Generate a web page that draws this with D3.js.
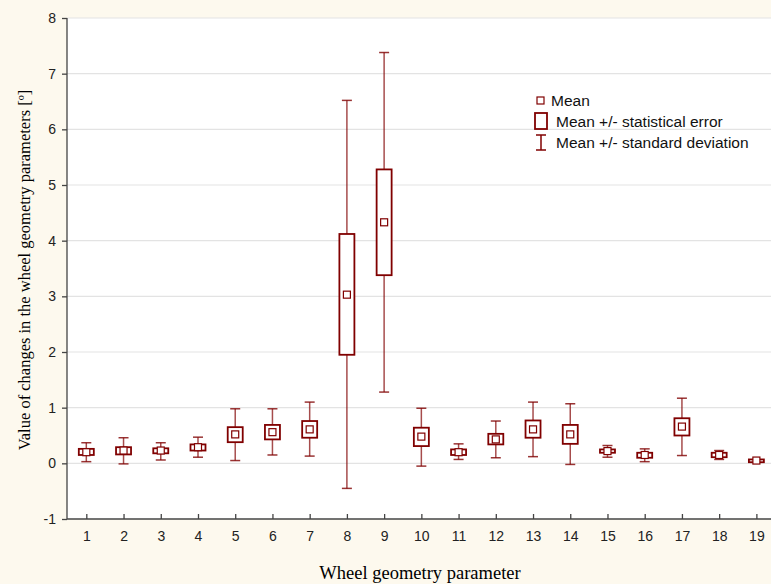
<!DOCTYPE html>
<meta charset="utf-8">
<style>body{margin:0;background:#fdf9ee}</style>
<body>
<script src="https://d3js.org/d3.v7.min.js"></script>
<script>
var params = d3.range(1, 20),
    means  = [0.20,0.23,0.23,0.29,0.52,0.56,0.61,3.03,4.33,0.48,0.20,0.43,0.61,0.52,0.22,0.15,0.66,0.15,0.05],
    seLo   = [0.15,0.16,0.18,0.23,0.38,0.43,0.46,1.95,3.38,0.31,0.15,0.34,0.46,0.35,0.19,0.10,0.50,0.11,0.02],
    seHi   = [0.26,0.29,0.27,0.34,0.65,0.69,0.76,4.12,5.28,0.64,0.25,0.53,0.77,0.69,0.25,0.19,0.81,0.19,0.07],
    sdLo   = [0.03,-0.01,0.06,0.11,0.05,0.15,0.13,-0.45,1.28,-0.05,0.07,0.10,0.12,-0.02,0.11,0.03,0.14,0.07,0.03],
    sdHi   = [0.37,0.46,0.37,0.47,0.98,0.98,1.10,6.52,7.38,0.99,0.35,0.76,1.10,1.07,0.32,0.26,1.17,0.23,0.06],
    yTicks = d3.range(-1, 9);

var width = 771, height = 584, col = "#800000";
var svg = d3.select("body").append("svg").attr("width", width).attr("height", height);

var x = d3.scaleLinear().domain([0.5, 19.5]).range([67.7, 775]),
    y = d3.scaleLinear().domain([-1, 8]).range([519, 18]);

svg.append("rect").attr("x", 67).attr("y", 18).attr("width", width - 67).attr("height", 501).attr("fill", "#fff");

svg.selectAll(".grid").data(yTicks.slice(1)).enter().append("line")
    .attr("x1", 67).attr("x2", width).attr("y1", d => y(d)).attr("y2", d => y(d))
    .attr("stroke", "#e3e3e3").attr("stroke-width", 1.2);

var ya = svg.append("g").attr("transform", "translate(67,0)")
    .call(d3.axisLeft(y).tickValues(yTicks).tickFormat(d => String(d)).tickSize(5).tickSizeOuter(0));
var xa = svg.append("g").attr("transform", "translate(0,519)")
    .call(d3.axisBottom(x).tickValues(params).tickSize(-5).tickSizeOuter(0).tickPadding(12));
[ya, xa].forEach(function(a) {
  a.selectAll("text").attr("font-family", "Liberation Sans, Arial").attr("font-size", 14).attr("fill", "#222");
  a.selectAll("line,path").attr("stroke", "#444").attr("stroke-width", 1.3);
});
ya.selectAll("text").attr("dx", -3);
xa.select(".domain").attr("d", "M67,0H" + width);
ya.select(".domain").attr("d", "M0,18V519");

var g = svg.selectAll(".pt").data(params).enter().append("g");
g.append("line").attr("x1", d => x(d)).attr("x2", d => x(d))
    .attr("y1", (d, i) => y(sdLo[i])).attr("y2", (d, i) => y(sdHi[i]))
    .attr("stroke", col).attr("stroke-opacity", 0.7).attr("stroke-width", 1.5);
[sdLo, sdHi].forEach(function(arr) {
  g.append("line").attr("x1", d => x(d) - 5).attr("x2", d => x(d) + 5)
      .attr("y1", (d, i) => y(arr[i])).attr("y2", (d, i) => y(arr[i]))
      .attr("stroke", col).attr("stroke-opacity", 0.8).attr("stroke-width", 1.5);
});
g.append("rect").attr("x", d => x(d) - 7.5).attr("width", 15)
    .attr("y", (d, i) => y(seHi[i])).attr("height", (d, i) => y(seLo[i]) - y(seHi[i]))
    .attr("fill", "#fff").attr("stroke", col).attr("stroke-width", 1.8);
g.append("rect").attr("x", d => x(d) - 3.5).attr("width", 7)
    .attr("y", (d, i) => y(means[i]) - 3.5).attr("height", 7)
    .attr("fill", "#fff").attr("stroke", col).attr("stroke-width", 1.2);

// legend
var lg = svg.append("g").attr("font-family", "Liberation Sans, Arial").attr("font-size", 15.5).attr("fill", "#111");
lg.append("rect").attr("x", 537).attr("y", 97).attr("width", 7).attr("height", 7).attr("fill", "#fff").attr("stroke", col).attr("stroke-width", 1.2);
lg.append("text").attr("x", 551).attr("y", 106).text("Mean");
lg.append("rect").attr("x", 535).attr("y", 113).attr("width", 12).attr("height", 16).attr("fill", "#fff").attr("stroke", col).attr("stroke-width", 1.8);
lg.append("text").attr("x", 556).attr("y", 127).text("Mean +/- statistical error");
lg.append("line").attr("x1", 541).attr("x2", 541).attr("y1", 135).attr("y2", 150).attr("stroke", col).attr("stroke-width", 1.5);
lg.append("line").attr("x1", 536).attr("x2", 546).attr("y1", 135).attr("y2", 135).attr("stroke", col).attr("stroke-width", 1.5);
lg.append("line").attr("x1", 536).attr("x2", 546).attr("y1", 150).attr("y2", 150).attr("stroke", col).attr("stroke-width", 1.5);
lg.append("text").attr("x", 556).attr("y", 148).text("Mean +/- standard deviation");

svg.append("text").attr("x", 420).attr("y", 579).attr("text-anchor", "middle")
    .attr("font-family", "Liberation Serif, Times New Roman").attr("font-size", 18.5).text("Wheel geometry parameter");
svg.append("text").attr("transform", "translate(30,270) rotate(-90)").attr("text-anchor", "middle")
    .attr("font-family", "Liberation Serif, Times New Roman").attr("font-size", 16.5)
    .text("Value of changes in the wheel geometry parameters   [º]");
</script>
